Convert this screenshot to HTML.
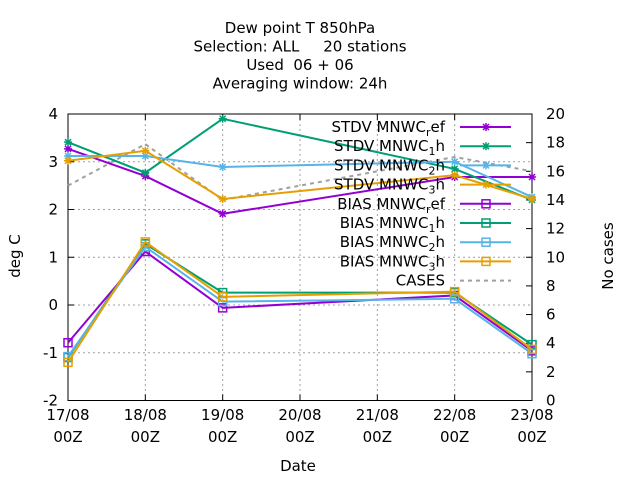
<!DOCTYPE html>
<html><head><meta charset="utf-8"><style>
html,body{margin:0;padding:0;background:#fff;}
svg{display:block;font-family:"DejaVu Sans","Liberation Sans",sans-serif;}
</style></head><body>
<svg id="chart" width="640" height="480" viewBox="0 0 640 480"></svg>
<script>
const days = [0,1,2,5,6];
const xTickLabels = ["17/08","18/08","19/08","20/08","21/08","22/08","23/08"];
const yTicks = [-2,-1,0,1,2,3,4];
const y2Ticks = [0,2,4,6,8,10,12,14,16,18,20];
const stdvRef = [3.27,2.70,1.91,2.68,2.68];
const stdv1h = [3.41,2.77,3.90,2.85,2.20];
const stdv2h = [3.12,3.12,2.89,3.00,2.26];
const stdv3h = [3.02,3.23,2.22,2.72,2.22];
const biasRef = [-0.79,1.12,-0.06,0.20,-0.96];
const bias1h = [-1.10,1.28,0.26,0.26,-0.83];
const bias2h = [-1.08,1.22,0.07,0.13,-1.02];
const bias3h = [-1.20,1.32,0.17,0.28,-0.93];
const cases = [15.0,17.9,14.0,17.0,16.0];

const NS="http://www.w3.org/2000/svg";
const svg=document.getElementById('chart');
const L=68,R=532,T=114,B=400.5;
const xs=d=>L+(R-L)*d/6;
const ys=v=>B-(B-T)*(v+2)/6;
const ys2=v=>B-(B-T)*v/20;
function mk(tag,attrs,parent){const e=document.createElementNS(NS,tag);for(const k in attrs)e.setAttribute(k,attrs[k]);(parent||svg).appendChild(e);return e;}
function txt(x,y,s,anchor,size){const t=mk('text',{x:x,y:y,'text-anchor':anchor||'middle','font-size':size||15,fill:'#000'});t.textContent=s;return t;}

const titles=["Dew point T 850hPa","Selection: ALL\u00a0\u00a0\u00a0\u00a0\u00a020 stations","Used\u00a0\u00a006\u00a0+\u00a006","Averaging window: 24h"];
titles.forEach((s,i)=>{const t=txt(300,33+i*18.5,s,'middle',15);

});

const grid=mk('g',{});


for(let d=1;d<6;d++)mk('line',{x1:xs(d),x2:xs(d),y1:T,y2:B,stroke:'#a0a0a0','stroke-dasharray':'2,3','stroke-width':1},grid);
yTicks.forEach(v=>{if(v>-2&&v<4)mk('line',{x1:L,x2:R,y1:ys(v),y2:ys(v),stroke:'#a0a0a0','stroke-dasharray':'2,3','stroke-width':1},grid);});

const frame=mk('rect',{x:L,y:T,width:R-L,height:B-T,fill:'none',stroke:'#000','stroke-width':1});


yTicks.forEach(v=>{mk('line',{x1:L,x2:L+6,y1:ys(v),y2:ys(v),stroke:'#000'});
const t=txt(L-10,ys(v)+5,String(v),'end',15);

});
y2Ticks.forEach(v=>{mk('line',{x1:R-6,x2:R,y1:ys2(v),y2:ys2(v),stroke:'#000'});
const t=txt(R+14,ys2(v)+5,String(v),'start',15);

});
xTickLabels.forEach((s,i)=>{mk('line',{x1:xs(i),x2:xs(i),y1:B,y2:B-6,stroke:'#000'});mk('line',{x1:xs(i),x2:xs(i),y1:T,y2:T+6,stroke:'#000'});
const t=txt(xs(i),420,s,'middle',15);


const t2=txt(xs(i),442,'00Z','middle',15);

});
const xt=txt(298,471,'Date','middle',15);


const yt=txt(0,0,'deg C','middle',15);yt.setAttribute('transform','translate(20,256) rotate(-90)');


const y2t=txt(0,0,'No cases','middle',15);y2t.setAttribute('transform','translate(613,256) rotate(-90)');



function starMark(g,x,y,c){mk('path',{d:`M${x-4},${y}h8M${x},${y-4}v8M${x-3},${y-3}l6,6M${x-3},${y+3}l6,-6`,stroke:c,'stroke-width':1.5,fill:'none'},g);}
function boxMark(g,x,y,c){mk('rect',{x:x-4,y:y-4,width:8,height:8,fill:'none',stroke:c,'stroke-width':1.5},g);}

const series=[
{vals:stdvRef,c:'#9400d3',m:'star',lab:['STDV MNWC','r','ef'],name:'series-stdv-ref'},
{vals:stdv1h,c:'#009e73',m:'star',lab:['STDV MNWC','1','h'],name:'series-stdv-1h'},
{vals:stdv2h,c:'#56b4e9',m:'star',lab:['STDV MNWC','2','h'],name:'series-stdv-2h'},
{vals:stdv3h,c:'#e69f00',m:'star',lab:['STDV MNWC','3','h'],name:'series-stdv-3h'},
{vals:biasRef,c:'#9400d3',m:'box',lab:['BIAS MNWC','r','ef'],name:'series-bias-ref'},
{vals:bias1h,c:'#009e73',m:'box',lab:['BIAS MNWC','1','h'],name:'series-bias-1h'},
{vals:bias2h,c:'#56b4e9',m:'box',lab:['BIAS MNWC','2','h'],name:'series-bias-2h'},
{vals:bias3h,c:'#e69f00',m:'box',lab:['BIAS MNWC','3','h'],name:'series-bias-3h'}
];

const cg=mk('g',{});


mk('polyline',{points:days.map((d,i)=>xs(d)+','+ys2(cases[i])).join(' '),fill:'none',stroke:'#a0a0a0','stroke-width':2,'stroke-dasharray':'4,4'},cg);

series.forEach(s=>{
const g=mk('g',{});


mk('polyline',{points:days.map((d,i)=>xs(d)+','+ys(s.vals[i])).join(' '),fill:'none',stroke:s.c,'stroke-width':2},g);
days.forEach((d,i)=>{(s.m==='star'?starMark:boxMark)(g,xs(d),ys(s.vals[i]),s.c);});
});

const lg=mk('g',{});


series.forEach((s,i)=>{
const y=127+i*19.2;
const e=mk('g',{},lg);


const t=mk('text',{x:445,y:y+5,'text-anchor':'end','font-size':15,fill:'#000'},e);
const a=mk('tspan',{},t);a.textContent=s.lab[0];
const b=mk('tspan',{dy:4,'font-size':11},t);b.textContent=s.lab[1];
const c=mk('tspan',{dy:-4},t);c.textContent=s.lab[2];
mk('line',{x1:460,x2:511,y1:y,y2:y,stroke:s.c,'stroke-width':2},e);
(s.m==='star'?starMark:boxMark)(e,486,y,s.c);
});
{const y=127+8*19.2;
const e=mk('g',{},lg);


const t=mk('text',{x:445,y:y+5,'text-anchor':'end','font-size':15,fill:'#000'},e);t.textContent='CASES';
mk('line',{x1:460,x2:511,y1:y,y2:y,stroke:'#a0a0a0','stroke-width':2,'stroke-dasharray':'4,4'},e);}
</script>
</body></html>
